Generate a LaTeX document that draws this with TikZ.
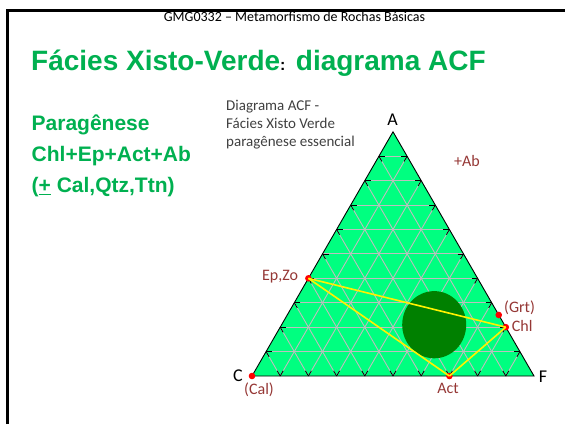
\documentclass[tikz,border=0pt]{standalone}
\usepackage{fontspec}
\setmainfont{Carlito}
\newfontfamily\arialfont{Liberation Sans}
\usetikzlibrary{calc}
\definecolor{ttlgreen}{RGB}{0,176,80}
\definecolor{trifill}{RGB}{0,255,128}
\definecolor{blobgreen}{RGB}{0,128,0}
\definecolor{lblred}{RGB}{149,55,53}
\definecolor{gridgray}{RGB}{190,190,190}
\definecolor{capgray}{RGB}{64,64,64}
\tikzset{
  gridline/.style={draw=gridgray, line width=0.9pt},
  tickmark/.style={draw=black, line width=0.8pt},
  mindot/.style={circle, fill=red, inner sep=0pt, minimum size=6.6pt},
  tieline/.style={draw=yellow, line width=1.6pt},
  minlbl/.style={text=lblred, font=\fontsize{16}{18}\selectfont, inner sep=0pt},
  cornerlbl/.style={text=black, font=\fontsize{18}{20}\selectfont, inner sep=0pt},
  caplbl/.style={text=capgray, font=\fontsize{15}{18}\selectfont, inner sep=0pt, anchor=base west},
  paralbl/.style={text=ttlgreen, font=\arialfont\bfseries\fontsize{21}{25}\selectfont, inner sep=0pt, anchor=base west},
}
\begin{document}
\begin{tikzpicture}[x=1pt,y=-1pt]
\useasboundingbox (0,0) rectangle (565,424);
% frame
\draw[line width=2.6pt] (7.5,424) -- (7.5,10.5) -- (565,10.5);
% header and title
\node[anchor=base, inner sep=0pt, font=\fontsize{14}{16}\selectfont] (hdr) at (294.5,21.7) {GMG0332 – Metamorfismo de Rochas Básicas};
\node[anchor=base west, inner sep=0pt, text=ttlgreen, font=\arialfont\bfseries\fontsize{28}{32}\selectfont] (title) at (31,70.7) {Fácies Xisto-Verde{\color{black}\fontsize{16}{18}\selectfont:} diagrama ACF};
% left text
\node[paralbl] (par1) at (31.5,130.5) {Paragênese};
\node[paralbl] (par2) at (31.5,161.7) {Chl+Ep+Act+Ab};
\node[paralbl] (par3) at (31.5,192.3) {(\underline{+} Cal,Qtz,Ttn)};
% caption
\node[caplbl] (cap1) at (226,110) {Diagrama ACF -};
\node[caplbl] (cap2) at (226,128.3) {Fácies Xisto Verde};
\node[caplbl] (cap3) at (226,146.6) {paragênese essencial};
% triangle corners
\coordinate (C) at (252,376);
\coordinate (F) at (534,376);
\coordinate (A) at (393,131.8);
\fill[trifill] (C) -- (F) -- (A) -- cycle;
% grid
\foreach \k in {1,...,9} {
  \pgfmathsetmacro\tt{\k/10}
  \pgfmathsetmacro\uu{1-\k/10}
  % horizontal lines
  \path ($(C)!\tt!(A)$) coordinate (ha) ($(F)!\tt!(A)$) coordinate (hb);
  \draw[gridline] (ha) -- (hb);
  % lines parallel to CA
  \path ($(C)!\tt!(F)$) coordinate (pa) ($(F)!\uu!(A)$) coordinate (pb);
  \draw[gridline] (pa) -- (pb);
  % lines parallel to FA
  \path ($(C)!\tt!(A)$) coordinate (qa);
  \draw[gridline] (pa) -- (qa);
  % tick marks
  \draw[tickmark] ($(ha)!6pt!(hb)$) -- (ha);
  \draw[tickmark] ($(hb)!6pt!(ha)$) -- (hb);
  \draw[tickmark] ($(pa)!6pt!(pb)$) -- (pa);
  \draw[tickmark] ($(pb)!6pt!(pa)$) -- (pb);
  \draw[tickmark] ($(pa)!6pt!(qa)$) -- (pa);
  \draw[tickmark] ($(qa)!6pt!(pa)$) -- (qa);
}
\draw[black, line width=0.9pt, line join=miter] (C) -- (F) -- (A) -- cycle;
% dark green field
\fill[blobgreen] (434.2,324.7) ellipse [x radius=32, y radius=33.6];
% mineral points
\node[mindot] (ep) at ($(C)!0.4!(A)$) {};
\node[mindot] (chl) at ($(F)!0.2!(A)$) {};
\node[mindot] (grt) at ($(F)!0.25!(A)$) {};
\node[mindot] (act) at ($(C)!0.7!(F)$) {};
\node[mindot] (cal) at (C) {};
% tie lines
\draw[tieline] (ep.center) -- (chl.center);
\draw[tieline] (ep.center) -- (act.center);
\draw[tieline] (act.center) -- (chl.center);
% corner labels
\node[cornerlbl, anchor=base] (lA) at (392.5,125) {A};
\node[cornerlbl, anchor=base] (lC) at (238,381.7) {C};
\node[cornerlbl, anchor=base] (lF) at (543,382.5) {F};
% mineral labels
\node[minlbl, anchor=base east] (lep) at (298.3,280) {Ep,Zo};
\node[minlbl, anchor=base west] (lgrt) at (504,312.3) {(Grt)};
\node[minlbl, anchor=base west] (lchl) at (511.7,331.7) {Chl};
\node[minlbl, anchor=base] (lact) at (448,393.3) {Act};
\node[minlbl, anchor=base] (lcal) at (259,394) {(Cal)};
\node[minlbl, anchor=base west] (lab) at (454,166.7) {+Ab};
\end{tikzpicture}
\end{document}
